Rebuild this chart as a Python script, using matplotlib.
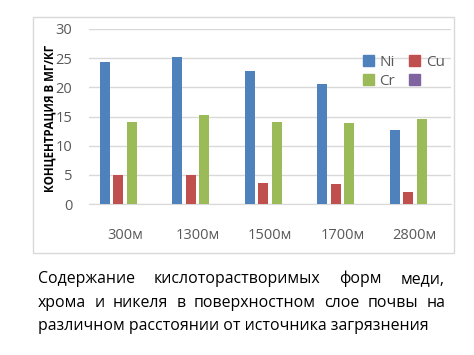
import numpy as np
import matplotlib
matplotlib.use("Agg")
from matplotlib import pyplot as plt
from matplotlib.patches import Patch, Rectangle

# -----------------------------
# Data
# -----------------------------
categories = ["300м", "1300м", "1500м", "1700м", "2800м"]
ni = [24.4, 25.2, 22.8, 20.5, 12.7]
cu = [4.9, 4.9, 3.6, 3.4, 2.1]
cr = [14.1, 15.3, 14.1, 13.9, 14.5]
series_names = ["Ni", "Cu", "Cr", ""]
colors = ["#4F81BD", "#C0504D", "#9BBB59", "#8064A2"]
y_label = "КОНЦЕНТРАЦИЯ В МГ/КГ"
caption_lines = [
    "Содержание кислоторастворимых форм меди,",
    "хрома и никеля в поверхностном слое почвы на",
    "различном расстоянии от источника загрязнения",
]

FONT = "Open Sans"
W, H = 474, 355

fig = plt.figure(figsize=(W / 100, H / 100), dpi=100)
fig.patch.set_facecolor("white")

# chart border
fig.add_artist(Rectangle((33 / W, 1 - 253 / H), 421 / W, 236 / H,
                         transform=fig.transFigure, fill=False,
                         edgecolor="#d9d9d9", lw=1.0))

ax = fig.add_axes([89 / W, 1 - 204 / H, 362 / W, 175 / H])
x = np.arange(len(categories))
pitch = 13.5 / 72.4
width = 10 / 72.4
values = [ni, cu, cr]
for k, vals in enumerate(values):
    ax.bar(x + (k - 1.5) * pitch, vals, width, color=colors[k], zorder=3)

ax.set_xlim(-0.5, len(categories) - 0.5)
ax.set_ylim(0, 30)
ax.set_yticks(range(0, 31, 5))
ax.yaxis.grid(True, color="#d9d9d9", lw=1.0, zorder=0)
for s in ["top", "right", "left"]:
    ax.spines[s].set_visible(False)
ax.spines["bottom"].set_color("#d9d9d9")
ax.tick_params(length=0)
ax.set_xticks(x)
ax.set_xticklabels(categories, family=FONT, fontsize=10.5, color="#595959")
ax.tick_params(axis="x", pad=17)
ax.tick_params(axis="y", pad=12)
for lab in ax.get_yticklabels():
    lab.set_family(FONT)
    lab.set_fontsize(10.5)
    lab.set_color("#595959")

fig.text(50 / W, 1 - 118 / H, y_label, rotation=90, ha="center", va="center",
         family=FONT, fontsize=8.3, fontweight="bold", color="black")

# legend fills column by column, so order gives rows Ni/Cu and Cr/(empty)
patches = [Patch(color=c, label=n if n else " ") for c, n in zip(colors, series_names)]
handles = [patches[0], patches[2], patches[1], patches[3]]
leg = ax.legend(handles=handles, ncol=2, loc="upper left",
                bbox_to_anchor=(355 / W, 1 - 47 / H), bbox_transform=fig.transFigure,
                frameon=False, prop={"family": FONT, "size": 11},
                handlelength=0.75, handleheight=0.75, handletextpad=0.35,
                columnspacing=0.9, labelspacing=0.3, borderpad=0)
for t in leg.get_texts():
    t.set_color("#595959")

# justified caption
renderer = fig.canvas.get_renderer()
left, right = 38, 445
baselines = [283, 307, 330]
CAP_SIZE = 11.4
for i, line in enumerate(caption_lines):
    words = line.split()
    ypos = 1 - baselines[i] / H
    if i == len(caption_lines) - 1:
        fig.text(left / W, ypos, line, family=FONT, fontsize=CAP_SIZE,
                 ha="left", va="baseline")
        continue
    texts = [fig.text(0, ypos, w, family=FONT, fontsize=CAP_SIZE,
                      ha="left", va="baseline") for w in words]
    widths = [t.get_window_extent(renderer).width for t in texts]
    gap = (right - left - sum(widths)) / (len(words) - 1)
    pos = left
    for t, w in zip(texts, widths):
        t.set_x(pos / W)
        pos += w + gap

fig.savefig("out.png", dpi=100)
